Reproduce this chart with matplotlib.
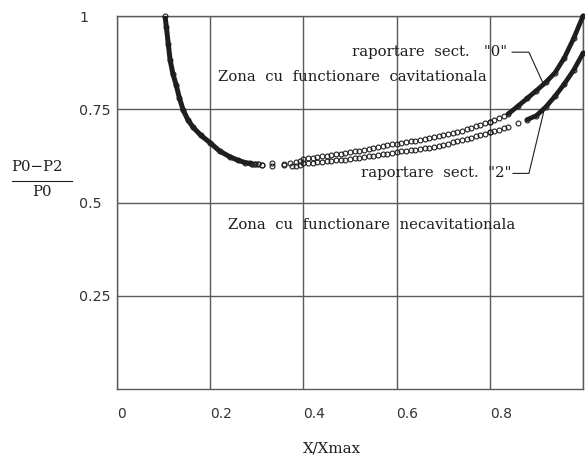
import matplotlib
matplotlib.use("Agg")
import matplotlib.pyplot as plt

# ---- data ----
# shared cavitating branch (dense, appears as a thick line)
branch_x = [0.103, 0.106, 0.110, 0.114, 0.120, 0.127, 0.134, 0.142, 0.152, 0.163,
            0.180, 0.200, 0.220, 0.243, 0.260, 0.275, 0.285]
branch_y = [1.000, 0.970, 0.925, 0.882, 0.845, 0.815, 0.780, 0.748, 0.722, 0.702,
            0.680, 0.660, 0.638, 0.622, 0.613, 0.607, 0.605]

# sparse points near the minimum
s0_x = [0.290, 0.296, 0.303, 0.312, 0.333, 0.359, 0.372, 0.385, 0.393]
s0_y = [0.604, 0.603, 0.602, 0.601, 0.606, 0.604, 0.606, 0.609, 0.612]
s2_x = [0.290, 0.296, 0.303, 0.312, 0.333, 0.359, 0.376, 0.385, 0.393]
s2_y = [0.604, 0.603, 0.602, 0.601, 0.598, 0.600, 0.598, 0.598, 0.601]

# shared x for the two branches after the split
mid_x = [0.40, 0.41, 0.42, 0.43, 0.44, 0.45, 0.46, 0.47, 0.48, 0.49,
         0.50, 0.51, 0.52, 0.53, 0.54, 0.55, 0.56, 0.57, 0.58, 0.59,
         0.60, 0.61, 0.62, 0.63, 0.64, 0.65, 0.66, 0.67, 0.68, 0.69,
         0.70, 0.71, 0.72, 0.73, 0.74, 0.75, 0.76, 0.77, 0.78, 0.79, 0.80]
sect0_y = [0.617, 0.619, 0.620, 0.622, 0.624, 0.626, 0.628, 0.629, 0.631, 0.633,
           0.635, 0.637, 0.639, 0.642, 0.644, 0.646, 0.648, 0.651, 0.653, 0.656,
           0.658, 0.660, 0.662, 0.664, 0.666, 0.668, 0.671, 0.673, 0.676, 0.678,
           0.681, 0.684, 0.687, 0.690, 0.693, 0.697, 0.700, 0.704, 0.708, 0.712, 0.716]
sect2_y = [0.605, 0.606, 0.607, 0.608, 0.609, 0.610, 0.611, 0.613, 0.614, 0.615,
           0.617, 0.619, 0.620, 0.622, 0.624, 0.626, 0.628, 0.629, 0.631, 0.633,
           0.635, 0.637, 0.638, 0.640, 0.641, 0.643, 0.645, 0.647, 0.650, 0.652,
           0.655, 0.658, 0.661, 0.664, 0.667, 0.670, 0.673, 0.677, 0.680, 0.684, 0.688]

# dense end parts (appear as thick lines)
end_x = [0.80, 0.81, 0.82, 0.83, 0.84, 0.86, 0.88, 0.90, 0.92, 0.94, 0.96, 0.98, 1.00]
end0_y = [0.716, 0.721, 0.726, 0.732, 0.738, 0.758, 0.779, 0.800, 0.822, 0.848, 0.888, 0.940, 1.000]
end2_y = [0.688, 0.691, 0.695, 0.699, 0.703, 0.712, 0.722, 0.733, 0.756, 0.785, 0.818, 0.855, 0.900]

xticks = [0, 0.2, 0.4, 0.6, 0.8, 1.0]
xtick_labels = ["0", "0.2", "0.4", "0.6", "0.8", "1"]
yticks = [0.25, 0.5, 0.75, 1.0]
ytick_labels = ["0.25", "0.5", "0.75", "1"]

INK = "#1e1e1e"
GRID = "#5a5a5a"
SERIF = "DejaVu Serif"

fig = plt.figure(figsize=(5.85, 4.57), dpi=100)
ax = fig.add_axes([117/585, 1 - 389/457, (583-117)/585, (389-16)/457])
ax.set_xlim(0, 1)
ax.set_ylim(0, 1)

# grid
ax.set_xticks(xticks)
ax.set_yticks(yticks)
ax.grid(True, color=GRID, lw=1.0)
for s in ax.spines.values():
    s.set_color(GRID)
    s.set_linewidth(1.0)
ax.tick_params(length=0)
ax.set_xticklabels(xtick_labels, fontsize=10, color="#333333", family="DejaVu Sans")
ax.set_yticklabels(ytick_labels, fontsize=10.3, color="#333333", family="DejaVu Sans")
for lab in ax.get_xticklabels():
    lab.set_horizontalalignment("left")
for lab in ax.get_yticklabels():
    lab.set_horizontalalignment("left")
ax.tick_params(axis="x", pad=13)
ax.tick_params(axis="y", pad=27)

mk = dict(marker="o", ms=3.5, mfc="none", mec=INK, mew=0.8, ls="none", clip_on=False)

# thick dense parts
ax.plot(branch_x, branch_y, color=INK, lw=3.6, solid_capstyle="round", zorder=3)
ax.plot(branch_x, branch_y, **mk, zorder=3)
ax.plot(end_x[4:], end0_y[4:], color=INK, lw=3.4, solid_capstyle="round", zorder=3, clip_on=False)
ax.plot(end_x[6:], end2_y[6:], color=INK, lw=3.4, solid_capstyle="round", zorder=3, clip_on=False)

# circles
for xs, ys in [(s0_x, s0_y), (s2_x, s2_y), (mid_x, sect0_y), (mid_x, sect2_y),
               (end_x, end0_y), (end_x, end2_y)]:
    ax.plot(xs, ys, **mk, zorder=3)

# zone labels
ax.text(0.217, 0.836, "Zona  cu  functionare  cavitationala", family=SERIF,
        fontsize=10.7, color=INK, ha="left", va="center")
ax.text(0.239, 0.44, "Zona  cu  functionare  necavitationala", family=SERIF,
        fontsize=10.7, color=INK, ha="left", va="center")

# series annotations with leader lines
ax.text(0.505, 0.903, 'raportare  sect.   "0"', family=SERIF, fontsize=10.7,
        color=INK, ha="left", va="center")
ax.plot([0.848, 0.884, 0.916], [0.903, 0.903, 0.815], color=INK, lw=0.8)
ax.text(0.523, 0.578, 'raportare  sect.  "2"', family=SERIF, fontsize=10.7,
        color=INK, ha="left", va="center")
ax.plot([0.850, 0.884, 0.916], [0.578, 0.578, 0.745], color=INK, lw=0.8)

# y label as fraction
fig.text(37/585, 1 - 167/457, "P0\u2212P2", family=SERIF, fontsize=10.7, color=INK,
         ha="center", va="center")
fig.add_artist(plt.Line2D([12/585, 72/585], [1 - 181/457, 1 - 181/457],
                          color=INK, lw=0.8))
fig.text(42/585, 1 - 192/457, "P0", family=SERIF, fontsize=10.7, color=INK,
         ha="center", va="center")

# x label
fig.text(303/585, 1 - 448/457, "X/Xmax", family=SERIF, fontsize=10.8, color=INK,
         ha="left", va="center")

fig.savefig("out.png", dpi=100, facecolor="white")
